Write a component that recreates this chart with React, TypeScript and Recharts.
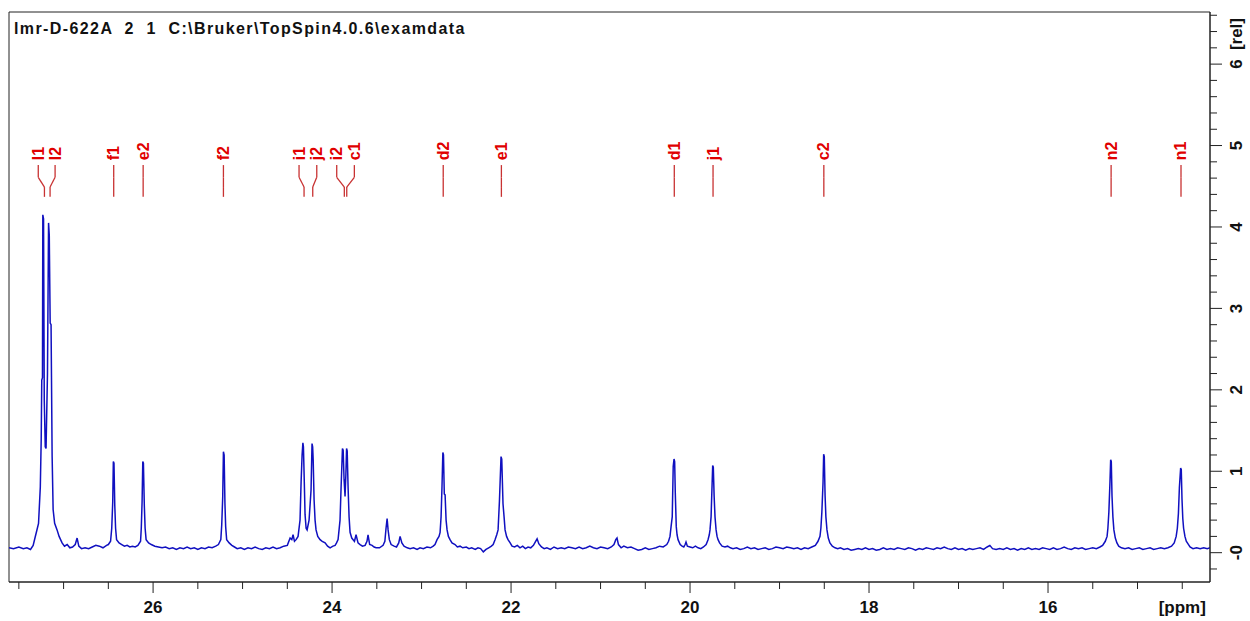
import React from "react";
import {
  LineChart,
  Line,
  XAxis,
  YAxis,
  ReferenceArea,
  ReferenceLine,
  ReferenceDot,
} from "recharts";

// 13C trace, [ppm, rel. intensity], read left to right (high ppm -> low ppm)
const traceL: [number, number][] = [
  [27.61, 0.06], [27.56, 0.05], [27.5, 0.07], [27.45, 0.05], [27.41, 0.06], [27.37, 0.04],
  [27.34, 0.09], [27.32, 0.18], [27.3, 0.27], [27.28, 0.36], [27.26, 0.81], [27.25, 1.4],
  [27.244, 2.12], [27.236, 2.15], [27.232, 4.15], [27.224, 4.1], [27.216, 1.88], [27.205, 1.3],
  [27.196, 1.28], [27.18, 2.2], [27.168, 4.05], [27.16, 3.9], [27.15, 2.82], [27.14, 2.8],
  [27.128, 1.18], [27.117, 0.53], [27.1, 0.36], [27.073, 0.28], [27.05, 0.2], [27.017, 0.12],
  [26.99, 0.08], [26.96, 0.1], [26.93, 0.06], [26.9, 0.07], [26.87, 0.1], [26.849, 0.18],
  [26.83, 0.08], [26.8, 0.05], [26.76, 0.06], [26.72, 0.05], [26.68, 0.07], [26.64, 0.09],
  [26.6, 0.08], [26.56, 0.06], [26.52, 0.09], [26.5, 0.1], [26.475, 0.14], [26.462, 0.3],
  [26.451, 0.62], [26.444, 1.12], [26.437, 1.1], [26.428, 0.58], [26.419, 0.3], [26.408, 0.16],
  [26.38, 0.12], [26.35, 0.1], [26.32, 0.08], [26.29, 0.09], [26.26, 0.07], [26.23, 0.08],
  [26.2, 0.07], [26.17, 0.09], [26.14, 0.14], [26.132, 0.3], [26.123, 0.62], [26.115, 1.12],
  [26.108, 1.1], [26.098, 0.58], [26.089, 0.3], [26.078, 0.16], [26.05, 0.12], [26.02, 0.1],
  [25.98, 0.08], [25.94, 0.07], [25.9, 0.06], [25.86, 0.07], [25.82, 0.05], [25.78, 0.06],
  [25.74, 0.04], [25.7, 0.06], [25.66, 0.05], [25.62, 0.07], [25.58, 0.05], [25.54, 0.06],
  [25.5, 0.04], [25.46, 0.06], [25.42, 0.05], [25.38, 0.07], [25.34, 0.06], [25.3, 0.08],
  [25.27, 0.1], [25.243, 0.16], [25.233, 0.34], [25.222, 0.68], [25.214, 1.24], [25.206, 1.2],
  [25.197, 0.6], [25.189, 0.32], [25.178, 0.16], [25.15, 0.12], [25.12, 0.09], [25.09, 0.07],
  [25.06, 0.05], [25.02, 0.06], [24.98, 0.04], [24.94, 0.06], [24.9, 0.05], [24.86, 0.07],
  [24.82, 0.05], [24.78, 0.04], [24.74, 0.06], [24.7, 0.05], [24.66, 0.07], [24.62, 0.05],
  [24.58, 0.06], [24.54, 0.08], [24.5, 0.09],
];

const traceM: [number, number][] = [
  [24.469, 0.18], [24.45, 0.16], [24.436, 0.22], [24.42, 0.14], [24.402, 0.16], [24.38, 0.2],
  [24.358, 0.4], [24.346, 0.87], [24.335, 1.2], [24.326, 1.35], [24.32, 1.3], [24.311, 0.9],
  [24.302, 0.47], [24.29, 0.3], [24.279, 0.28], [24.268, 0.34], [24.257, 0.4], [24.245, 0.6],
  [24.235, 0.77], [24.224, 1.34], [24.217, 1.3], [24.211, 1.14], [24.201, 0.65], [24.19, 0.4],
  [24.179, 0.28], [24.16, 0.2], [24.134, 0.16], [24.11, 0.14], [24.078, 0.12], [24.05, 0.08],
  [24.022, 0.06], [23.99, 0.08], [23.966, 0.09], [23.95, 0.12], [23.933, 0.16], [23.922, 0.28],
  [23.911, 0.4], [23.899, 0.81], [23.884, 1.28], [23.876, 1.26], [23.866, 0.9], [23.855, 0.69],
  [23.846, 0.95], [23.838, 1.28], [23.831, 1.25], [23.821, 0.8], [23.81, 0.44], [23.799, 0.25],
  [23.78, 0.18], [23.765, 0.16], [23.75, 0.14], [23.732, 0.22], [23.71, 0.12], [23.687, 0.1],
  [23.66, 0.08], [23.631, 0.09], [23.61, 0.14], [23.598, 0.22], [23.58, 0.1], [23.553, 0.09],
  [23.53, 0.07], [23.508, 0.06], [23.47, 0.06], [23.43, 0.09], [23.41, 0.14], [23.397, 0.3],
  [23.385, 0.42], [23.374, 0.28], [23.36, 0.16], [23.34, 0.1], [23.307, 0.08], [23.28, 0.07],
  [23.255, 0.12], [23.24, 0.2], [23.22, 0.12], [23.196, 0.08], [23.16, 0.06], [23.128, 0.05],
  [23.09, 0.06], [23.05, 0.04], [23.017, 0.06], [22.98, 0.05], [22.94, 0.07], [22.9, 0.06],
  [22.87, 0.08], [22.85, 0.1], [22.827, 0.16], [22.805, 0.2], [22.793, 0.25], [22.782, 0.44],
  [22.772, 0.8], [22.762, 1.23], [22.755, 1.2], [22.746, 0.72], [22.737, 0.71], [22.726, 0.4],
  [22.715, 0.28], [22.7, 0.2], [22.682, 0.16], [22.66, 0.12], [22.626, 0.1], [22.6, 0.07],
  [22.57, 0.08], [22.54, 0.06], [22.5, 0.07], [22.47, 0.05], [22.44, 0.06], [22.4, 0.04],
  [22.37, 0.06], [22.34, 0.05], [22.31, 0.01], [22.28, 0.04], [22.25, 0.06], [22.22, 0.08],
  [22.2, 0.1], [22.179, 0.16], [22.16, 0.22], [22.145, 0.28], [22.13, 0.63], [22.112, 1.18],
  [22.104, 1.15], [22.09, 0.6], [22.078, 0.44], [22.067, 0.28], [22.05, 0.2], [22.034, 0.16],
  [22.01, 0.12], [21.989, 0.08], [21.96, 0.07], [21.93, 0.09], [21.9, 0.06], [21.87, 0.08],
  [21.84, 0.05], [21.81, 0.07], [21.78, 0.06], [21.75, 0.09], [21.73, 0.13], [21.709, 0.17],
  [21.69, 0.11], [21.66, 0.07], [21.63, 0.05], [21.6, 0.06], [21.56, 0.04], [21.52, 0.07],
  [21.48, 0.05], [21.44, 0.06], [21.4, 0.05], [21.36, 0.07], [21.32, 0.06], [21.28, 0.05],
  [21.24, 0.07], [21.2, 0.05], [21.16, 0.06], [21.12, 0.08], [21.08, 0.06], [21.04, 0.05],
  [21.0, 0.07], [20.96, 0.06], [20.92, 0.05], [20.88, 0.07], [20.85, 0.1], [20.83, 0.16],
  [20.816, 0.18], [20.8, 0.1], [20.77, 0.06], [20.74, 0.08], [20.7, 0.06], [20.66, 0.07],
  [20.62, 0.05], [20.58, 0.03], [20.54, 0.04], [20.5, 0.06], [20.46, 0.04], [20.42, 0.05],
  [20.38, 0.06], [20.34, 0.08], [20.3, 0.07], [20.26, 0.1], [20.24, 0.14],
];

const traceR: [number, number][] = [
  [20.224, 0.2], [20.212, 0.32], [20.199, 0.44], [20.188, 1.06], [20.179, 1.15], [20.172, 1.12],
  [20.165, 0.74], [20.154, 0.32], [20.145, 0.22], [20.134, 0.16], [20.11, 0.1], [20.089, 0.08],
  [20.07, 0.07], [20.055, 0.1], [20.045, 0.13], [20.03, 0.08], [20.0, 0.07], [19.97, 0.06],
  [19.94, 0.08], [19.91, 0.06], [19.88, 0.05], [19.85, 0.07], [19.82, 0.1], [19.799, 0.16],
  [19.785, 0.22], [19.777, 0.28], [19.765, 0.44], [19.747, 1.07], [19.74, 1.05], [19.731, 0.7],
  [19.721, 0.44], [19.709, 0.28], [19.698, 0.2], [19.687, 0.16], [19.67, 0.12], [19.642, 0.08],
  [19.61, 0.07], [19.58, 0.08], [19.55, 0.06], [19.52, 0.05], [19.48, 0.06], [19.44, 0.04],
  [19.4, 0.05], [19.36, 0.07], [19.32, 0.05], [19.28, 0.06], [19.24, 0.04], [19.2, 0.05],
  [19.16, 0.06], [19.12, 0.04], [19.08, 0.05], [19.04, 0.07], [19.0, 0.06], [18.96, 0.05],
  [18.92, 0.07], [18.88, 0.06], [18.84, 0.05], [18.8, 0.06], [18.76, 0.04], [18.72, 0.06],
  [18.68, 0.05], [18.64, 0.07], [18.6, 0.09], [18.57, 0.14], [18.548, 0.2], [18.538, 0.3],
  [18.527, 0.5], [18.514, 0.86], [18.507, 1.21], [18.5, 1.18], [18.491, 0.7], [18.482, 0.44],
  [18.47, 0.28], [18.455, 0.18], [18.437, 0.12], [18.41, 0.08], [18.38, 0.06], [18.35, 0.05],
  [18.32, 0.06], [18.28, 0.04], [18.24, 0.05], [18.2, 0.03], [18.16, 0.04], [18.12, 0.05],
  [18.08, 0.04], [18.04, 0.06], [18.0, 0.04], [17.96, 0.05], [17.92, 0.03], [17.88, 0.04],
  [17.84, 0.06], [17.8, 0.04], [17.76, 0.05], [17.72, 0.04], [17.68, 0.06], [17.64, 0.05],
  [17.6, 0.04], [17.56, 0.06], [17.52, 0.05], [17.48, 0.03], [17.44, 0.05], [17.4, 0.04],
  [17.36, 0.06], [17.32, 0.05], [17.28, 0.04], [17.24, 0.06], [17.2, 0.05], [17.16, 0.07],
  [17.12, 0.05], [17.08, 0.04], [17.04, 0.06], [17.0, 0.04], [16.96, 0.05], [16.92, 0.03],
  [16.88, 0.05], [16.84, 0.04], [16.8, 0.05], [16.76, 0.06], [16.72, 0.04], [16.68, 0.07],
  [16.65, 0.09], [16.62, 0.05], [16.58, 0.04], [16.54, 0.05], [16.5, 0.04], [16.46, 0.06],
  [16.42, 0.04], [16.38, 0.05], [16.34, 0.03], [16.3, 0.05], [16.26, 0.04], [16.22, 0.06],
  [16.18, 0.04], [16.14, 0.05], [16.1, 0.04], [16.06, 0.06], [16.02, 0.05], [15.98, 0.04],
  [15.94, 0.06], [15.9, 0.04], [15.86, 0.05], [15.82, 0.07], [15.78, 0.05], [15.74, 0.04],
  [15.7, 0.06], [15.66, 0.05], [15.62, 0.06], [15.58, 0.04], [15.54, 0.05], [15.5, 0.06],
  [15.46, 0.05], [15.42, 0.07], [15.39, 0.09], [15.36, 0.14], [15.34, 0.2], [15.331, 0.3],
  [15.32, 0.5], [15.308, 0.86], [15.3, 1.14], [15.293, 1.12], [15.285, 0.7], [15.275, 0.44],
  [15.264, 0.28], [15.248, 0.18], [15.23, 0.12], [15.21, 0.08], [15.18, 0.06], [15.14, 0.05],
  [15.1, 0.06], [15.06, 0.04], [15.02, 0.05], [14.98, 0.06], [14.94, 0.04], [14.9, 0.05],
  [14.86, 0.06], [14.82, 0.04], [14.78, 0.05], [14.74, 0.06], [14.7, 0.05], [14.66, 0.06],
  [14.62, 0.08], [14.59, 0.12], [14.568, 0.2], [14.555, 0.3], [14.543, 0.48], [14.532, 0.8],
  [14.518, 1.04], [14.511, 1.02], [14.503, 0.66], [14.494, 0.42], [14.485, 0.3], [14.47, 0.2],
  [14.455, 0.14], [14.43, 0.1], [14.413, 0.07], [14.38, 0.05], [14.34, 0.06], [14.3, 0.05],
  [14.26, 0.06], [14.22, 0.05], [14.19, 0.06],
];

// peak annotations: label, where the text sits, where the leader meets the peak
const peakNames = ["l1", "l2", "f1", "e2", "f2", "i1", "j2", "i2", "c1", "d2", "e1", "d1", "j1", "c2", "n2", "n1"];
const labelPpm = [27.283, 27.095, 26.44, 26.111, 25.214, 24.369, 24.171, 23.948, 23.751, 22.758, 22.108, 20.176, 19.743, 18.505, 15.295, 14.514];
const peakPpm = [27.214, 27.151, 26.44, 26.111, 25.214, 24.313, 24.216, 23.863, 23.836, 22.758, 22.108, 20.176, 19.743, 18.505, 15.295, 14.514];

const xTicks = [27.5, 27, 26.5, 26, 25.5, 25, 24.5, 24, 23.5, 23, 22.5, 22, 21.5, 21, 20.5, 20, 19.5, 19, 18.5, 18, 17.5, 17, 16.5, 16, 15.5, 15, 14.5];
const yTicks = [-0.2, 0, 0.2, 0.4, 0.6, 0.8, 1, 1.2, 1.4, 1.6, 1.8, 2, 2.2, 2.4, 2.6, 2.8, 3, 3.2, 3.4, 3.6, 3.8, 4, 4.2, 4.4, 4.6, 4.8, 5, 5.2, 5.4, 5.6, 5.8, 6, 6.2, 6.4, 6.6];

const X_DOMAIN: [number, number] = [14.19, 27.61];
const Y_DOMAIN: [number, number] = [-0.36, 6.64];

// leader line levels, in rel units
const TEXT_Y = 4.82;
const LEAD_TOP = 4.76;
const BEND_TOP = 4.61;
const BEND_BOTTOM = 4.49;
const LEAD_BOTTOM = 4.37;

const FONT = "'Liberation Sans', Arial, sans-serif";
const AXIS = "#222";

const data = [...traceL, ...traceM, ...traceR].map(([ppm, rel]) => ({ ppm, rel }));

const XTick = ({ x, y, payload }: any) => {
  const v = payload.value;
  const major = v % 2 === 0;
  return (
    <g>
      <line x1={x} y1={y} x2={x} y2={y + (major ? 11 : 7)} stroke={AXIS} />
      {major && (
        <text x={x} y={y + 31} textAnchor="middle" fontFamily={FONT} fontWeight="bold" fontSize={17} fill="#111">
          {v}
        </text>
      )}
      {v === 14.5 && (
        <text x={x} y={y + 31} textAnchor="middle" fontFamily={FONT} fontWeight="bold" fontSize={17} fill="#111">
          [ppm]
        </text>
      )}
    </g>
  );
};

const YTick = ({ x, y, payload }: any) => {
  const v = payload.value;
  const major = Number.isInteger(v);
  const tx = x + 27;
  return (
    <g>
      <line x1={x} y1={y} x2={x + (major ? 12 : 7)} y2={y} stroke={AXIS} />
      {major && (
        <text
          x={tx}
          y={y}
          transform={`rotate(-90 ${tx} ${y})`}
          textAnchor="middle"
          dominantBaseline="central"
          fontFamily={FONT}
          fontWeight="bold"
          fontSize={17}
          fill="#111"
        >
          {v === 0 ? "-0" : v}
        </text>
      )}
      {v === 6 && (
        <text
          x={tx}
          y={y - 14}
          transform={`rotate(-90 ${tx} ${y - 14})`}
          textAnchor="start"
          dominantBaseline="central"
          fontFamily={FONT}
          fontWeight="bold"
          fontSize={17}
          fill="#111"
        >
          [rel]
        </text>
      )}
    </g>
  );
};

const peakText = (name: string) => (p: any) => (
  <text
    x={p.cx}
    y={p.cy}
    transform={`rotate(-90 ${p.cx} ${p.cy})`}
    textAnchor="start"
    dominantBaseline="central"
    fontFamily={FONT}
    fontWeight="bold"
    fontSize={16}
    fill="#e00000"
  >
    {name}
  </text>
);

export default function App() {
  return (
    <div style={{ position: "absolute", left: 0, top: 0, width: 1250, height: 621, background: "#fff" }}>
      <div
        style={{
          position: "absolute",
          left: 14,
          top: 21,
          fontFamily: FONT,
          fontWeight: "bold",
          fontSize: 16,
          lineHeight: "15px",
          letterSpacing: "1.4px",
          whiteSpace: "pre",
          color: "#111",
          zIndex: 1,
        }}
      >
        {"lmr-D-622A  2  1  C:\\Bruker\\TopSpin4.0.6\\examdata"}
      </div>
      <LineChart width={1250} height={621} data={data} margin={{ top: 12, right: 0, bottom: 0, left: 9 }}>
        <XAxis
          dataKey="ppm"
          type="number"
          domain={X_DOMAIN}
          reversed
          allowDataOverflow
          ticks={xTicks}
          interval={0}
          tickSize={0}
          tickMargin={0}
          tickLine={false}
          tick={<XTick />}
          axisLine={{ stroke: AXIS }}
          height={39}
        />
        <YAxis
          orientation="right"
          type="number"
          domain={Y_DOMAIN}
          allowDataOverflow
          ticks={yTicks}
          interval={0}
          tickSize={0}
          tickMargin={0}
          tickLine={false}
          tick={<YTick />}
          axisLine={{ stroke: AXIS }}
          width={40}
        />
        <ReferenceArea x1={X_DOMAIN[1]} x2={X_DOMAIN[0]} y1={Y_DOMAIN[0]} y2={Y_DOMAIN[1]} fill="none" stroke={AXIS} />
        <Line
          type="linear"
          dataKey="rel"
          stroke="#1010c0"
          strokeWidth={1.5}
          dot={false}
          isAnimationActive={false}
        />
        {peakNames.map((name, i) => (
          <React.Fragment key={name}>
            <ReferenceLine
              segment={[{ x: labelPpm[i], y: LEAD_TOP }, { x: labelPpm[i], y: BEND_TOP }]}
              stroke="#c83232"
              strokeWidth={1.3}
            />
            <ReferenceLine
              segment={[{ x: labelPpm[i], y: BEND_TOP }, { x: peakPpm[i], y: BEND_BOTTOM }]}
              stroke="#c83232"
              strokeWidth={1.3}
            />
            <ReferenceLine
              segment={[{ x: peakPpm[i], y: BEND_BOTTOM }, { x: peakPpm[i], y: LEAD_BOTTOM }]}
              stroke="#c83232"
              strokeWidth={1.3}
            />
            <ReferenceDot x={labelPpm[i]} y={TEXT_Y} r={0} shape={peakText(name)} />
          </React.Fragment>
        ))}
      </LineChart>
    </div>
  );
}
